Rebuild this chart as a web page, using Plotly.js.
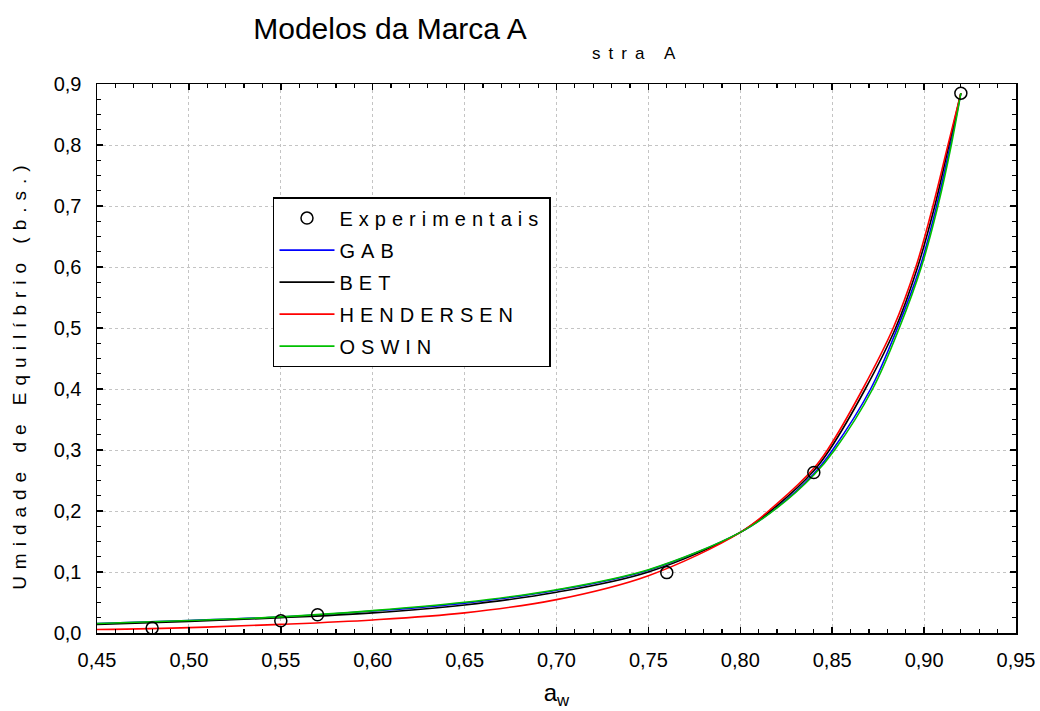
<!DOCTYPE html>
<html>
<head>
<meta charset="utf-8">
<script src="https://cdn.plot.ly/plotly-3.0.1.min.js"></script>
<style>html,body{margin:0;padding:0;background:#fff;}</style>
</head>
<body>
<div id="chart" style="width:1040px;height:711px;"></div>
<script>
// Experimental points
const awExp = [0.48, 0.55, 0.57, 0.76, 0.84, 0.92];
const umExp = [0.008, 0.020, 0.030, 0.099, 0.263, 0.885];

// GAB model (blue)
const awGAB = [0.45,0.50,0.55,0.60,0.65,0.70,0.75,0.80,0.82,0.84,0.8502,0.8709,0.8855,0.8978,0.9068,0.9143,0.92];
const umGAB = [0.0155,0.0205,0.0262,0.036,0.049,0.070,0.103,0.165,0.206,0.261,0.3,0.4,0.5,0.6,0.7,0.8,0.885];

// BET model (black)
const awBET = [0.45,0.50,0.55,0.60,0.65,0.70,0.75,0.80,0.82,0.84,0.8485,0.868,0.8845,0.8965,0.9058,0.9135,0.92];
const umBET = [0.014,0.019,0.025,0.033,0.046,0.0667,0.100,0.165,0.209,0.266,0.3,0.4,0.5,0.6,0.7,0.8,0.885];

// HENDERSEN model (red)
const awHEN = [0.45,0.50,0.55,0.60,0.65,0.70,0.75,0.80,0.82,0.84,0.8474,0.8666,0.8832,0.8955,0.9048,0.913,0.92];
const umHEN = [0.0057,0.0088,0.0142,0.0214,0.033,0.0547,0.094,0.165,0.212,0.270,0.3,0.4,0.5,0.6,0.7,0.8,0.885];

// OSWIN model (green)
const awOSW = [0.45,0.50,0.55,0.60,0.65,0.70,0.75,0.80,0.82,0.84,0.8513,0.872,0.8865,0.8985,0.9075,0.9148,0.92];
const umOSW = [0.0155,0.0205,0.0265,0.0367,0.0503,0.071,0.1038,0.165,0.205,0.259,0.3,0.4,0.5,0.6,0.7,0.8,0.885];

const seriesNames = ['Experimentais', 'GAB', 'BET', 'HENDERSEN', 'OSWIN'];
const chartTitle = 'Modelos da Marca A';
const subTitle = 'stra A';
const xTitle = 'a<sub>w</sub>';
const yTitle = 'Umidade de Equilíbrio (b.s.)';

const FONT = 'Liberation Sans, Arial, sans-serif';
const sp = (t, s) => '<span style="letter-spacing:' + s + 'px">' + t + '</span>';

function lineTrace(x, y, name, color, rank) {
  return {
    x: x, y: y, name: sp(name, 6), type: 'scatter', mode: 'lines',
    line: {color: color, width: 1.6, shape: 'spline', smoothing: 1},
    legendrank: rank, legendgroup: 'g' + rank, hoverinfo: 'skip'
  };
}

const traces = [
  lineTrace(awGAB, umGAB, seriesNames[1], '#0000ff', 2),
  lineTrace(awBET, umBET, seriesNames[2], '#000000', 3),
  lineTrace(awHEN, umHEN, seriesNames[3], '#ff0000', 4),
  lineTrace(awOSW, umOSW, seriesNames[4], '#00c000', 5),
  {
    x: awExp, y: umExp, name: sp(seriesNames[0], 6), type: 'scatter', mode: 'markers',
    marker: {symbol: 'circle-open', size: 12, color: '#000', line: {width: 1.5, color: '#000'}},
    legendrank: 1, legendgroup: 'g1'
  }
];

const axisCommon = {
  showline: true, linecolor: '#000', linewidth: 1.5, mirror: 'ticks',
  ticks: 'inside', ticklen: 6, tickwidth: 1.5, tickcolor: '#000',
  showgrid: true, gridcolor: '#c4c4c4', gridwidth: 1, griddash: 'dot',
  zeroline: false,
  tickfont: {family: FONT, size: 20, color: '#000'}
};

const layout = {
  width: 1040, height: 711,
  margin: {l: 97, r: 24, t: 84, b: 78, pad: 0},
  paper_bgcolor: '#fff', plot_bgcolor: '#fff',
  separators: ',.',
  font: {family: FONT, color: '#000'},
  title: {
    text: chartTitle, font: {family: FONT, size: 30, color: '#000'},
    xref: 'container', yref: 'container', x: 0.375, y: 0.9606,
    xanchor: 'center', yanchor: 'middle'
  },
  xaxis: Object.assign({}, axisCommon, {
    range: [0.45, 0.95], dtick: 0.05, tick0: 0.45, tickformat: '.2f',
    ticklabelstandoff: 8,
    minor: {dtick: 0.01, ticks: 'inside', ticklen: 4, tickwidth: 1.2, tickcolor: '#000', showgrid: false},
    title: {text: xTitle, font: {family: FONT, size: 24, color: '#000'}, standoff: 14}
  }),
  yaxis: Object.assign({}, axisCommon, {
    range: [0, 0.9], dtick: 0.1, tick0: 0, tickformat: '.1f',
    ticklabelstandoff: 10,
    minor: {dtick: 0.025, ticks: 'inside', ticklen: 4, tickwidth: 1.2, tickcolor: '#000', showgrid: false}
  }),
  showlegend: true,
  legend: {
    x: 0.1915, y: 0.794, xanchor: 'left', yanchor: 'top',
    bgcolor: '#fff', bordercolor: '#000', borderwidth: 1.5,
    font: {family: FONT, size: 20, color: '#000'},
    itemwidth: 55, traceorder: 'grouped', tracegroupgap: 3
  },
  annotations: [
    {
      text: sp(yTitle, 7), xref: 'paper', yref: 'paper',
      x: -0.0838, y: 0.472, textangle: -90, showarrow: false,
      xanchor: 'center', yanchor: 'middle',
      font: {family: FONT, size: 19, color: '#000'}
    },
    {
      text: sp(subTitle, 8), xref: 'paper', yref: 'paper',
      x: 0.5876, y: 1.0564, showarrow: false,
      xanchor: 'center', yanchor: 'middle',
      font: {family: FONT, size: 17, color: '#000'}
    }
  ]
};

Plotly.newPlot('chart', traces, layout, {displayModeBar: false, staticPlot: true});
</script>
</body>
</html>
